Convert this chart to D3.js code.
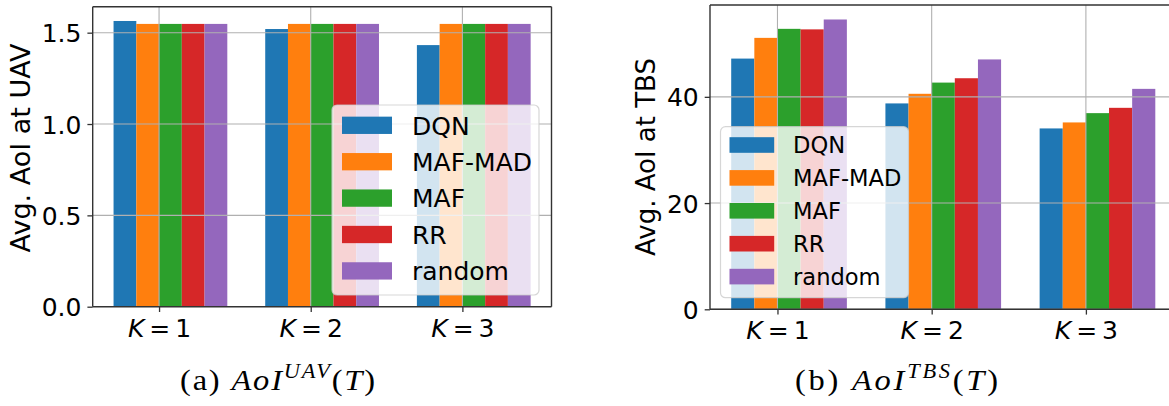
<!DOCTYPE html>
<html>
<head>
<meta charset="utf-8">
<script src="https://cdn.jsdelivr.net/npm/d3@7"></script>
<style>
  html, body { margin: 0; padding: 0; background: #fff; }
  svg { display: block; }
  text { font-family: "DejaVu Sans", sans-serif; fill: #000; }
  text.cap { font-family: "Liberation Serif", "DejaVu Serif", serif; }
</style>
</head>
<body>
<svg id="fig" width="1169" height="406"></svg>
<script>
// Scheduling policies compared in both panels
const series = ["DQN", "MAF-MAD", "MAF", "RR", "random"];
const colors = ["#1f77b4", "#ff7f0e", "#2ca02c", "#d62728", "#9467bd"];
const categories = ["1", "2", "3"];            // number of clusters K

// (a) average AoI at the UAV
const uavDQN    = [1.564, 1.520, 1.432];
const uavMAFMAD = [1.548, 1.548, 1.548];
const uavMAF    = [1.548, 1.548, 1.548];
const uavRR     = [1.548, 1.548, 1.548];
const uavRandom = [1.548, 1.548, 1.548];
const uavTicks  = [0, 0.5, 1.0, 1.5];

// (b) average AoI at the terrestrial base station
const tbsDQN    = [47.2, 38.76, 34.05];
const tbsMAFMAD = [51.1, 40.57, 35.18];
const tbsMAF    = [52.8, 42.68, 36.93];
const tbsRR     = [52.7, 43.5, 37.93];
const tbsRandom = [54.56, 47.04, 41.5];
const tbsTicks  = [0, 20, 40];

const svg = d3.select("#fig");
const BAR_W = 0.15;

function panel(cfg) {
  const values = cfg.values;
  const g = svg.append("g");
  const { left, right, top, bottom } = cfg.box;

  // bar i of group k spans [k + (i-2)w, k + (i-1)w]
  const lo = (0 - 2) * BAR_W, hi = (categories.length - 1) + (series.length - 2) * BAR_W;
  const pad = (hi - lo) * 0.05;
  const x = d3.scaleLinear().domain([lo - pad, hi + pad]).range([left, right]);
  const ymax = d3.max(values.flat()) * 1.05;
  const y = d3.scaleLinear().domain([0, ymax]).range([bottom, top]);

  const clipId = "clip" + cfg.id;
  svg.append("clipPath").attr("id", clipId)
    .append("rect").attr("x", left).attr("y", top).attr("width", right - left).attr("height", bottom - top);

  const plot = g.append("g").attr("clip-path", `url(#${clipId})`);

  // bars
  series.forEach((s, i) => {
    plot.append("g").selectAll("rect").data(values[i]).join("rect")
      .attr("x", (d, k) => x(k + (i - 2) * BAR_W))
      .attr("width", (d, k) => x(k + (i - 1) * BAR_W) - x(k + (i - 2) * BAR_W))
      .attr("y", d => y(d))
      .attr("height", d => y(0) - y(d))
      .attr("fill", colors[i]);
  });

  // grid (drawn above the bars)
  const grid = plot.append("g").attr("stroke", "#b0b0b0").attr("stroke-width", 1.1);
  grid.selectAll("line.h").data(cfg.ticks).join("line").attr("class", "h")
    .attr("x1", left).attr("x2", right).attr("y1", d => y(d)).attr("y2", d => y(d));
  grid.selectAll("line.v").data(categories.map((c, k) => k)).join("line").attr("class", "v")
    .attr("y1", top).attr("y2", bottom).attr("x1", d => x(d)).attr("x2", d => x(d));

  // axes
  const yAxis = d3.axisLeft(y).tickValues(cfg.ticks).tickSize(5.3).tickPadding(6)
    .tickFormat(cfg.fmt);
  const ya = g.append("g").attr("transform", `translate(${left},0)`).call(yAxis);
  ya.select(".domain").remove();
  ya.selectAll("text").attr("font-size", 25).attr("font-family", "DejaVu Sans").attr("dy", "0.36em");
  ya.selectAll("line").attr("stroke", "#333").attr("stroke-width", 1.3);

  const xAxis = d3.axisBottom(x).tickValues(categories.map((c, k) => k)).tickSize(5.3)
    .tickFormat(() => "");
  const xa = g.append("g").attr("transform", `translate(0,${bottom})`).call(xAxis);
  xa.select(".domain").remove();
  xa.selectAll("line").attr("stroke", "#333").attr("stroke-width", 1.3);
  xa.selectAll(".tick").each(function(d, k) {
    const t = d3.select(this).append("text").attr("y", 30).attr("text-anchor", "middle")
      .attr("font-size", 25).attr("fill", "#000").attr("font-family", "DejaVu Sans");
    t.append("tspan").attr("font-style", "italic").text("K");
    t.append("tspan").text("\u2009=\u2009" + categories[k]);
  });

  // spines
  const sp = g.append("g").attr("stroke", "#333").attr("stroke-width", 1.4).attr("fill", "none");
  sp.append("line").attr("x1", left).attr("x2", left).attr("y1", top).attr("y2", bottom);
  sp.append("line").attr("x1", left).attr("x2", right).attr("y1", bottom).attr("y2", bottom);
  sp.append("line").attr("x1", left).attr("x2", right).attr("y1", top).attr("y2", top);
  sp.append("line").attr("x1", right).attr("x2", right).attr("y1", top).attr("y2", bottom);

  // y label
  g.append("text")
    .attr("transform", `translate(${cfg.ylabX},${cfg.ylabY}) rotate(-90)`)
    .attr("text-anchor", "middle").attr("font-size", cfg.ylabSize)
    .text(cfg.ylabel);

  // legend
  const L = cfg.legend;
  const lg = g.append("g");
  lg.append("rect").attr("x", L.x).attr("y", L.y).attr("width", L.w).attr("height", L.h)
    .attr("rx", 5).attr("ry", 5)
    .attr("fill", "rgba(255,255,255,0.8)").attr("stroke", "rgba(204,204,204,0.8)").attr("stroke-width", 1.2);
  series.forEach((s, i) => {
    const cy = L.row0 + i * L.step;
    lg.append("rect").attr("x", L.px).attr("y", cy - L.ph / 2).attr("width", L.pw).attr("height", L.ph)
      .attr("fill", colors[i]);
    lg.append("text").attr("x", L.tx).attr("y", cy).attr("dy", "0.37em")
      .attr("font-size", L.fs).text(s);
  });

  return g;
}

panel({
  id: "a",
  values: [uavDQN, uavMAFMAD, uavMAF, uavRR, uavRandom],
  ticks: uavTicks,
  fmt: d3.format(".1f"),
  box: { left: 92.7, right: 551.5, top: 6.7, bottom: 306.7 },
  ylabel: "Avg. AoI at UAV", ylabX: 30, ylabY: 148, ylabSize: 27,
  legend: { x: 332, y: 105, w: 207, h: 190, row0: 125.3, step: 36.4,
            px: 342, pw: 50, ph: 17.3, tx: 412, fs: 25 }
});

panel({
  id: "b",
  values: [tbsDQN, tbsMAFMAD, tbsMAF, tbsRR, tbsRandom],
  ticks: tbsTicks,
  fmt: d3.format("d"),
  box: { left: 710, right: 1176.5, top: 5, bottom: 309.3 },
  ylabel: "Avg. AoI at TBS", ylabX: 655, ylabY: 157, ylabSize: 26,
  legend: { x: 720.5, y: 126.7, w: 188, h: 171, row0: 145, step: 32.9,
            px: 729.5, pw: 44.7, ph: 15.6, tx: 793, fs: 22.6 }
});

// sub-figure captions (serif, math-style italics)
function caption(x0, letter, sup, len) {
  const sx = 1.12;
  const t = svg.append("g").attr("transform", `translate(${x0},390) scale(${sx},1)`)
    .append("text").attr("class", "cap").attr("x", 0).attr("y", 0)
    .attr("font-size", 29).attr("textLength", len / sx).attr("lengthAdjust", "spacing");
  t.append("tspan").text(`(${letter}) `);
  t.append("tspan").attr("font-style", "italic").text("AoI");
  t.append("tspan").attr("font-style", "italic").attr("font-size", 20).attr("dy", -12).text(sup);
  t.append("tspan").attr("dy", 12).text("(");
  t.append("tspan").attr("font-style", "italic").text("T");
  t.append("tspan").text(")");
}
caption(180, "a", "UAV", 195);
caption(795, "b", "TBS", 203);
</script>
</body>
</html>
